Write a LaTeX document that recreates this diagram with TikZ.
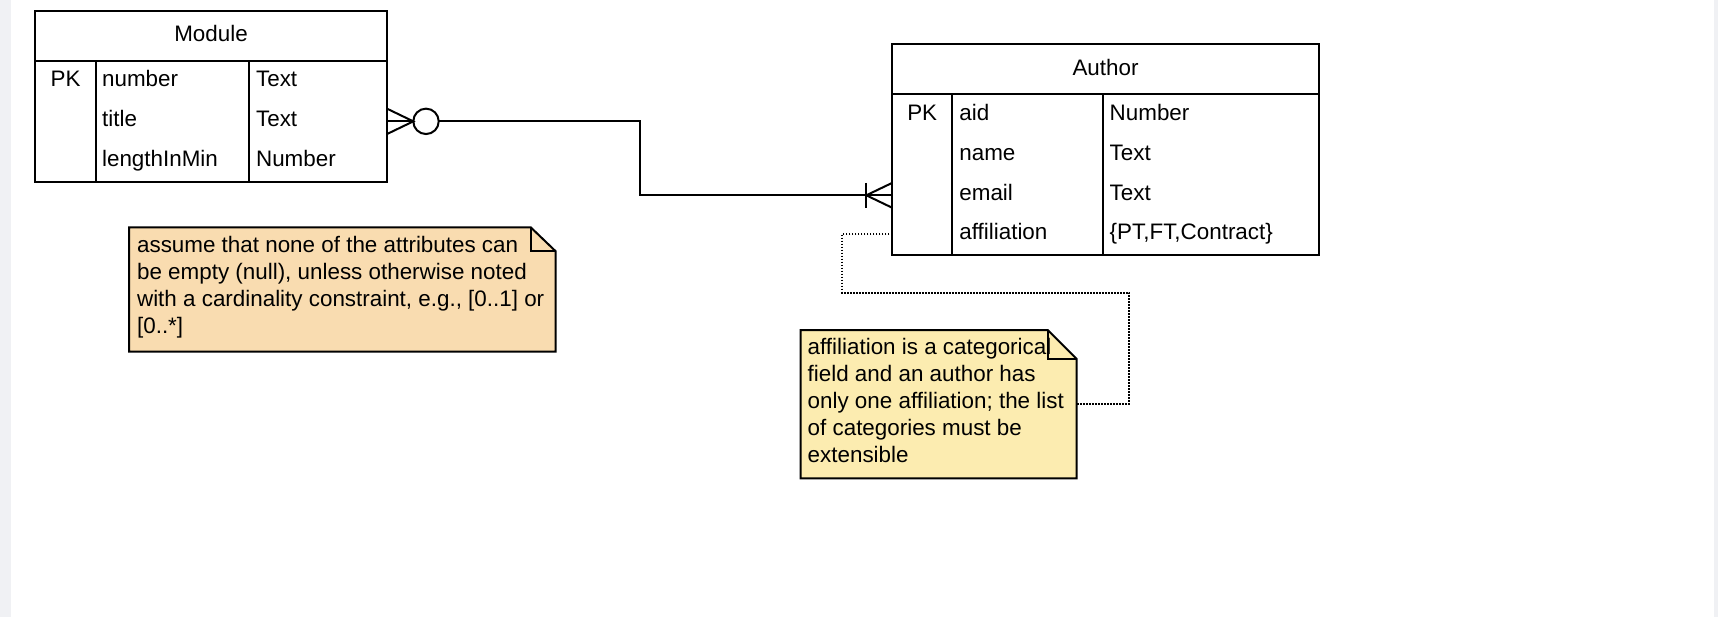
\documentclass[tikz,border=0pt]{standalone}
\usepackage{fontspec}
\setmainfont{Liberation Sans}
\usetikzlibrary{calc}
\definecolor{pagegray}{HTML}{F0F1F4}
\definecolor{notepeach}{HTML}{F9DCB0}
\definecolor{noteyellow}{HTML}{FCECB0}
\tikzset{
    ertable/.style={draw, line width=1pt, inner sep=0pt, outer sep=0pt, anchor=north west},
    ercell/.style={anchor=base west, inner sep=0pt},
    erkey/.style={anchor=base, inner sep=0pt},
    erline/.style={line width=1pt},
    notebox/.style={draw, line width=1pt},
    notearea/.style={inner sep=0pt, outer sep=0pt, anchor=north west},
    notetext/.style={anchor=north west, inner sep=0pt, align=left},
    notelink/.style={line width=1pt, dash pattern=on 0.8pt off 0.7pt}
}

\begin{document}
\begin{tikzpicture}[x=0.5pt, y=-0.5pt, font=\fontsize{11.2}{13.5}\selectfont]
    \useasboundingbox (0,0) rectangle (1718,617);
    \fill[pagegray] (0,0) rectangle (11,617);
    \fill[pagegray] (1714,0) rectangle (1718,617);

    % Module table
    \node[ertable, minimum width=176pt, minimum height=25pt] (modhead) at (35,11) {};
    \node[ertable, minimum width=176pt, minimum height=60.35pt] (modbody) at (35,61) {};
    \coordinate (modpk) at (95.7,61);
    \coordinate (modtype) at (249,61);
    \draw[erline] (modpk) -- (modpk |- modbody.south);
    \draw[erline] (modtype) -- (modtype |- modbody.south);

    \node[erkey] (modtitle) at (211,41.5) {Module};
    \node[erkey] (modkey) at (65.5,86.7) {PK};
    \node[ercell] (modnumber) at (101.7,86.7) {number};
    \node[ercell] (modnumbert) at (255.7,86.7) {Text};
    \node[ercell] (modtitlef) at (101.7,126.3) {title};
    \node[ercell] (modtitlet) at (255.7,126.3) {Text};
    \node[ercell] (modlength) at (101.7,166) {lengthInMin};
    \node[ercell] (modlengtht) at (255.7,166) {Number};

    % Author table
    \node[ertable, minimum width=213.2pt, minimum height=25.15pt] (authhead) at (892.3,44) {};
    \node[ertable, minimum width=213.2pt, minimum height=80.35pt] (authbody) at (892.3,94.3) {};
    \coordinate (authpk) at (951.7,94.3);
    \coordinate (authtype) at (1102.7,94.3);
    \draw[erline] (authpk) -- (authpk |- authbody.south);
    \draw[erline] (authtype) -- (authtype |- authbody.south);

    \node[erkey] (authtitle) at (1105.5,75) {Author};
    \node[erkey] (authkey) at (922.2,120) {PK};
    \node[ercell] (authaid) at (959,120) {aid};
    \node[ercell] (authaidt) at (1109.3,120) {Number};
    \node[ercell] (authname) at (959,160) {name};
    \node[ercell] (authnamet) at (1109.3,160) {Text};
    \node[ercell] (authemail) at (959,200) {email};
    \node[ercell] (authemailt) at (1109.3,200) {Text};
    \node[ercell] (authaffil) at (959,239.5) {affiliation};
    \node[ercell] (authaffilt) at (1109.3,239.5) {\{PT,FT,Contract\}};

    % zero or many -- one or many
    \node[circle, draw, line width=1pt, fill=white, inner sep=0pt, outer sep=0pt,
          minimum size=12.7pt] (zeromany) at ($(modbody.east)+(39,0)$) {};
    \coordinate (bend) at (640,195.3);
    \coordinate (authin) at (bend -| authbody.west);
    \draw[erline] (modbody.east) -- (zeromany.west);
    \draw[erline] ($(modbody.east)+(0,-12.7)$) -- (zeromany.west) -- ($(modbody.east)+(0,12.7)$);
    \draw[erline] (zeromany.east) -| (bend) -- (authin);
    \draw[erline] ($(authin)+(0,-12.5)$) -- ($(authin)+(-26,0)$) -- ($(authin)+(0,12.5)$);
    \draw[erline] ($(authin)+(-26,-12.5)$) -- ($(authin)+(-26,12.5)$);

    % notes
    \node[notearea, minimum width=213.35pt, minimum height=62.2pt] (note1) at (129,227.3) {};
    \draw[notebox, fill=notepeach] (note1.north west) -- ($(note1.north east)+(-25,0)$)
        -- ($(note1.north east)+(0,24)$) -- (note1.south east) -- (note1.south west) -- cycle;
    \draw[notebox] ($(note1.north east)+(-25,0)$) -- ++(0,24) -- ($(note1.north east)+(0,24)$);
    \node[notetext] (note1text) at ($(note1.north west)+(7.7,8.7)$)
        {assume that none of the attributes can\\be empty (null), unless otherwise noted\\with a cardinality constraint, e.g., [0..1] or\\{}[0..*]};

    \node[notearea, minimum width=138pt, minimum height=74.15pt] (note2) at (800.7,330) {};
    \draw[notebox, fill=noteyellow] (note2.north west) -- ($(note2.north east)+(-29,0)$)
        -- ($(note2.north east)+(0,29)$) -- (note2.south east) -- (note2.south west) -- cycle;
    \draw[notebox] ($(note2.north east)+(-29,0)$) -- ++(0,29) -- ($(note2.north east)+(0,29)$);
    \node[notetext] (note2text) at ($(note2.north west)+(6.6,7.7)$)
        {affiliation is a categorical\\field and an author has\\only one affiliation; the list\\of categories must be\\extensible};

    \coordinate (affilrow) at (0,234.3);
    \coordinate (affilout) at (affilrow -| authbody.west);
    \coordinate (linkleft) at (841.7,292.5);
    \coordinate (linkright) at (1129,292.5);
    \draw[notelink] (affilout) -| (linkleft) -- (linkright) |- (note2.east);
\end{tikzpicture}
\end{document}
